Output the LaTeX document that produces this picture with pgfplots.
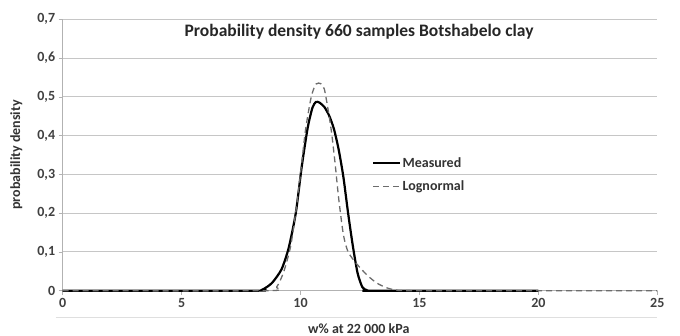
\documentclass[border=0pt]{standalone}
\usepackage{fontspec}
\setmainfont{Carlito}
\usepackage{pgfplots}
\pgfplotsset{compat=1.18}
\begin{document}
\begin{tikzpicture}
\path[use as bounding box] (-62.7pt,-45.3pt) rectangle (617.3pt,290.7pt);
\begin{axis}[
  scale only axis, width=594.6pt, height=271.4pt,
  at={(0,0)}, anchor=south west,
  xmin=0, xmax=25, ymin=0, ymax=0.7,
  xtick={0,5,10,15,20,25},
  ytick={0,0.1,0.2,0.3,0.4,0.5,0.6,0.7},
  axis lines*=left,
  axis line style={draw=gray!60, line width=0.8pt},
  ymajorgrids, grid style={draw=gray!45, line width=0.9pt},
  tick align=outside, major tick length=4pt,
  tick style={draw=gray!60, line width=0.6pt},
  /pgf/number format/assume math mode=true,
  ticklabel style={font=\fontsize{14}{16}\selectfont\bfseries, text=black!75},
  yticklabel style={/pgf/number format/.cd, fixed, precision=1, use comma},
  xticklabel style={/pgf/number format/.cd, fixed, precision=0},
  xlabel={w\% at 22 000 kPa},
  ylabel={probability density},
  xlabel style={font=\fontsize{14}{16}\selectfont\bfseries, text=black!80, at={(axis description cs:0.498,-0.141)}, anchor=center},
  ylabel style={font=\fontsize{14}{16}\selectfont\bfseries, text=black!80, at={(axis description cs:-0.078,0.5)}, anchor=center},
  legend style={at={(axis cs:12.88,0.354)}, anchor=north west, draw=none, fill=none,
    font=\fontsize{14}{16}\selectfont\bfseries, text=black!80, row sep=8pt},
  legend cell align=left,
  legend image code/.code={\draw[#1] (0cm,0cm) -- (0.92cm,0cm);},
  clip=false,
]
\addplot[black, line width=2.2pt, smooth, tension=0.4] coordinates {
 (0,0) (8.0,0) (8.4,0.003) (8.8,0.02) (9.2,0.055) (9.5,0.11) (9.8,0.2)
 (10.05,0.32) (10.3,0.42) (10.5,0.472) (10.65,0.487) (10.8,0.485)
 (11.0,0.474) (11.2,0.452) (11.4,0.418) (11.6,0.365) (11.8,0.294)
 (12.0,0.2) (12.2,0.115) (12.4,0.045) (12.6,0.009) (12.8,0.001) (13,0) (20,0)
};
\addlegendentry{Measured}
\addplot[gray!85!black, line width=1.3pt, dash pattern=on 6pt off 4pt, smooth, tension=0.4] coordinates {
 (0,0) (8.6,0) (9.0,0.01) (9.3,0.05) (9.6,0.12) (9.9,0.25) (10.2,0.41)
 (10.45,0.5) (10.65,0.533) (10.85,0.534) (11.0,0.52) (11.15,0.47) (11.3,0.41)
 (11.45,0.33) (11.6,0.24) (11.8,0.145) (12.0,0.1) (12.35,0.07) (12.8,0.04)
 (13.2,0.02) (13.6,0.008) (14,0.002) (15,0) (25,0)
};
\addlegendentry{Lognormal}
\node[font=\fontsize{17.5}{19}\selectfont\bfseries, text=black!85] at (axis cs:12.46,0.669) {Probability density 660 samples Botshabelo clay};
\draw[gray!25, line width=0.8pt] (axis cs:-0.3,-0.0695) -- (axis cs:25,-0.0695);
\end{axis}
\end{tikzpicture}
\end{document}
